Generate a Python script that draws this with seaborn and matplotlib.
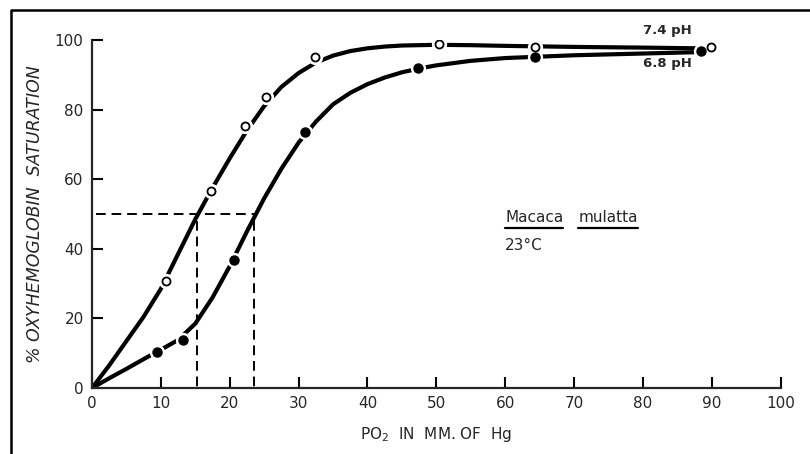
import seaborn as sns
import pandas as pd
import matplotlib
matplotlib.use("Agg")
import matplotlib.pyplot as plt
from matplotlib.lines import Line2D

# data
# smooth curves (PO2 mm Hg -> % saturation)
curve_po2 = [0, 2.5, 5, 7.5, 10, 12.5, 15, 17.5, 20, 22.5, 25, 27.5, 30, 32.5, 35, 37.5, 40, 42.5, 45, 47.5,
             50, 55, 60, 70, 80, 88]
curve_74 = [0, 6.5, 13.5, 20.5, 28.5, 38.5, 48.5, 57.5, 66, 74, 81, 86.5, 90.5, 93.5, 95.5, 96.8, 97.6, 98.1, 98.4, 98.5,
            98.6, 98.5, 98.3, 98.0, 97.8, 97.6]
curve_68 = [0, 2.8, 5.5, 8.3, 11, 13.8, 18.5, 26, 35, 45, 54.5, 63, 70.5, 76.5, 81.5, 84.8, 87.3, 89.2, 90.7, 91.8,
            92.7, 94, 94.8, 95.6, 96.1, 96.5]

# measured points
pts74_x = [10.7, 17.3, 22.2, 25.3, 32.4, 50.4, 64.3, 89.9]
pts74_y = [30.7, 56.5, 75.4, 83.6, 95.0, 98.7, 98.1, 98.1]
pts68_x = [9.5, 13.2, 20.6, 30.9, 47.3, 64.3, 88.4]
pts68_y = [10.2, 13.8, 36.7, 73.5, 91.9, 95.2, 96.9]

# half saturation pressures
p50_74 = 15.2
p50_68 = 23.5

curves = pd.DataFrame({"po2": curve_po2 * 2,
                       "sat": curve_74 + curve_68,
                       "ph": ["7.4"] * len(curve_po2) + ["6.8"] * len(curve_po2)})

sns.set_style("ticks")
plt.rcParams['font.family'] = ['DejaVu Sans']

fig = plt.figure(figsize=(8.1, 4.54), dpi=100)
ax = fig.add_axes([0.1136, 0.1454, 0.8502, 0.7666])

# dashed P50 lines
ax.plot([0.6, p50_68], [50, 50], color="black", lw=1.4, ls=(0, (5, 3)))
ax.plot([p50_74, p50_74], [48, 0], color="black", lw=1.4, ls=(0, (5, 3)))
ax.plot([p50_68, p50_68], [48, 0], color="black", lw=1.4, ls=(0, (5, 3)))

sns.lineplot(data=curves, x="po2", y="sat", units="ph", estimator=None,
             color="black", lw=3, ax=ax, legend=False, sort=False)
for l in ax.lines[-1:]:
    l.set_solid_joinstyle("round")
for l in ax.lines:
    l.set_solid_joinstyle("round")

# white halo so the curves look broken at each point
ax.plot(pts74_x, pts74_y, ls="none", marker="o", ms=10, mfc="white", mec="white", zorder=3)
ax.plot(pts68_x, pts68_y, ls="none", marker="o", ms=10, mfc="white", mec="white", zorder=3)
ax.plot(pts74_x, pts74_y, ls="none", marker="o", ms=5.8, mfc="white", mec="black", mew=1.3, zorder=4)
ax.plot(pts68_x, pts68_y, ls="none", marker="o", ms=6.5, mfc="black", mec="black", zorder=4)

ax.set_xlim(0, 100)
ax.set_ylim(0, 100)
ax.set_xticks(range(0, 101, 10))
ax.set_yticks(range(0, 101, 20))
sns.despine(ax=ax)
for s in ["left", "bottom"]:
    ax.spines[s].set_linewidth(1.6)
ax.tick_params(direction="in", length=8, width=1.5, labelsize=11, pad=6, color="black")
ax.set_xlabel("PO$_2$  IN  MM. OF  Hg", fontsize=11, labelpad=10)
ax.set_ylabel("% OXYHEMOGLOBIN  SATURATION", fontsize=12.5, style="italic", labelpad=8)

ax.text(83.5, 102.8, "7.4 pH", fontsize=9.5, fontweight="bold", ha="center", va="center")
ax.text(83.5, 93.2, "6.8 pH", fontsize=9.5, fontweight="bold", ha="center", va="center")

t1 = ax.text(60, 48.9, "Macaca", fontsize=11, ha="left", va="center")
t2 = ax.text(70.6, 48.9, "mulatta", fontsize=11, ha="left", va="center")
ax.text(60, 41, "23°C", fontsize=11, ha="left", va="center")

# underline the species name
fig.canvas.draw()
r = fig.canvas.get_renderer()
for t in [t1, t2]:
    bb = t.get_window_extent(r).transformed(fig.transFigure.inverted())
    fig.add_artist(Line2D([bb.x0, bb.x1], [bb.y0 - 0.006, bb.y0 - 0.006], color="black", lw=1.6))

# frame of the scanned figure
fig.add_artist(Line2D([0.0136, 0.0136, 1.0], [0.0, 0.978, 0.978], color="black", lw=1.8))

fig.savefig("out.png", dpi=100)
